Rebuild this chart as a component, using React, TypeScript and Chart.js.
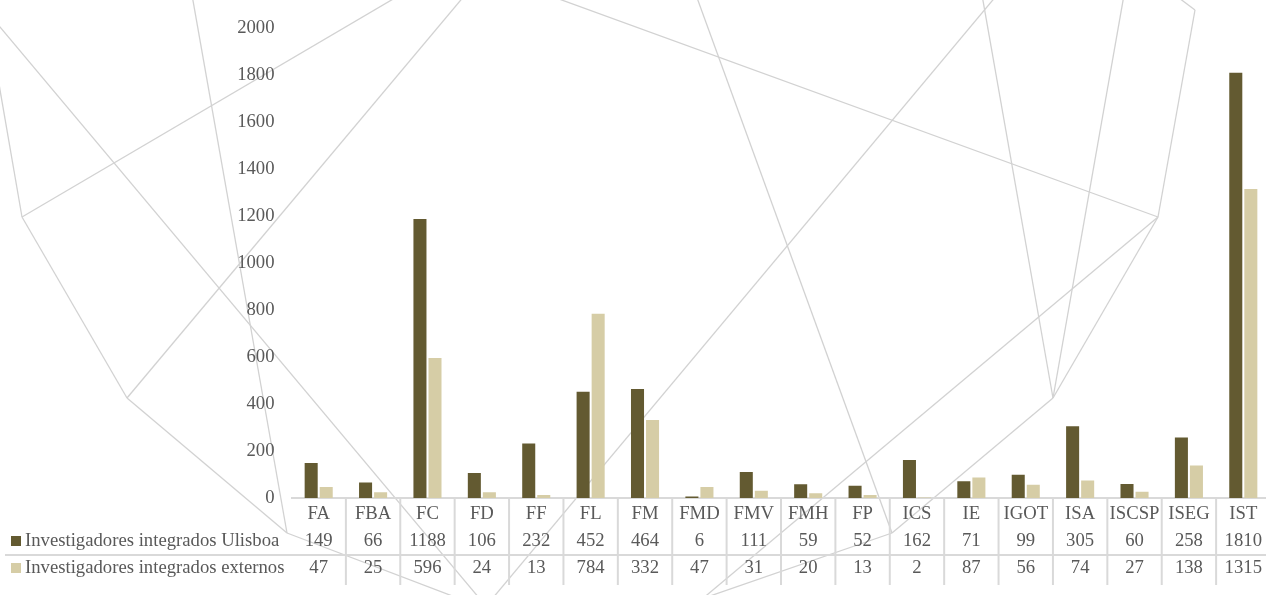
import React, { useEffect, useRef } from "react";
import { Chart, registerables } from "chart.js";

Chart.register(...registerables);

// ---- data ----
const categories = ["FA", "FBA", "FC", "FD", "FF", "FL", "FM", "FMD", "FMV", "FMH", "FP", "ICS", "IE", "IGOT", "ISA", "ISCSP", "ISEG", "IST"];
const ulisboa = [149, 66, 1188, 106, 232, 452, 464, 6, 111, 59, 52, 162, 71, 99, 305, 60, 258, 1810];
const externos = [47, 25, 596, 24, 13, 784, 332, 47, 31, 20, 13, 2, 87, 56, 74, 27, 138, 1315];
const seriesLabels = ["Investigadores integrados Ulisboa", "Investigadores integrados externos"];
const yMin = 0;
const yMax = 2000;
const yStep = 200;

// ---- style ----
const COLORS = ["#635A31", "#D6CDA6"];
const FONT = "'Liberation Serif', 'Times New Roman', serif";
const FONT_SIZE = 18.7;
const TEXT = "#595959";
const RULE = "#D9D9D9";
const DECOR_COLOR = "#D2D2D2";

// decorative background line pattern (pixel segments, not data)
const DECOR: number[][] = [
  [-10, 15, 485, 605],
  [-5, 61, 22, 217],
  [22, 217, 400, -5],
  [22, 217, 127, 398],
  [127, 398, 465, -5],
  [127, 398, 287, 533],
  [192, -5, 287, 533],
  [287, 533, 476, 605],
  [487, 605, 997, -5],
  [548, -5, 1158, 217],
  [696, -5, 892, 533],
  [892, 533, 684, 605],
  [1158, 217, 695, 605],
  [982, -5, 1053, 398],
  [1053, 398, 1158, 217],
  [1124, -5, 1053, 398],
  [1195, 10, 1158, 217],
  [1175, -5, 1195, 10],
  [892, 533, 1053, 398],
];

const decorPlugin = {
  id: "decor",
  beforeDraw(chart: any) {
    const ctx = chart.ctx;
    ctx.save();
    ctx.fillStyle = "#FFFFFF";
    ctx.fillRect(0, 0, chart.width, chart.height);
    ctx.strokeStyle = DECOR_COLOR;
    ctx.lineWidth = 1.3;
    DECOR.forEach(([x1, y1, x2, y2]) => {
      ctx.beginPath();
      ctx.moveTo(x1, y1);
      ctx.lineTo(x2, y2);
      ctx.stroke();
    });
    ctx.restore();
  },
};

const tablePlugin = {
  id: "dataTable",
  afterDraw(chart: any) {
    const { ctx, chartArea } = chart;
    const x = chart.scales.x;
    const n = categories.length;
    const step = (chartArea.right - chartArea.left) / n;
    const b = chartArea.bottom;
    const rowYs = [b + 43, b + 70];
    const dividerY = b + 57;
    const tableBottom = b + 87;
    const rows = [ulisboa, externos];

    ctx.save();
    ctx.strokeStyle = RULE;
    ctx.lineWidth = 2;
    ctx.beginPath();
    ctx.moveTo(5, dividerY);
    ctx.lineTo(chart.width, dividerY);
    ctx.stroke();
    for (let i = 1; i <= n; i++) {
      const px = chartArea.left + i * step;
      ctx.beginPath();
      ctx.moveTo(px, b);
      ctx.lineTo(px, tableBottom);
      ctx.stroke();
    }

    ctx.font = `${FONT_SIZE}px ${FONT}`;
    ctx.fillStyle = TEXT;
    ctx.textBaseline = "middle";
    ctx.textAlign = "center";
    rows.forEach((vals, r) => {
      vals.forEach((v, i) => {
        ctx.fillText(String(v), x.getPixelForValue(i), rowYs[r]);
      });
    });

    ctx.textAlign = "left";
    seriesLabels.forEach((lab, r) => {
      ctx.fillStyle = COLORS[r];
      ctx.fillRect(11, rowYs[r] - 5, 10, 10);
      ctx.fillStyle = TEXT;
      ctx.fillText(lab, 25, rowYs[r]);
    });
    ctx.restore();
  },
};

export default function App() {
  const ref = useRef<HTMLCanvasElement | null>(null);

  useEffect(() => {
    if (!ref.current) return;
    const chart = new Chart(ref.current, {
      type: "bar",
      data: {
        labels: categories,
        datasets: [
          { label: seriesLabels[0], data: ulisboa, backgroundColor: COLORS[0], borderWidth: 0 },
          { label: seriesLabels[1], data: externos, backgroundColor: COLORS[1], borderWidth: 0 },
        ],
      },
      options: {
        responsive: false,
        animation: false,
        devicePixelRatio: 1,
        layout: { padding: { top: 23, left: 0, right: 1.5, bottom: 0 } },
        datasets: { bar: { categoryPercentage: 0.553, barPercentage: 0.867 } } as any,
        plugins: {
          legend: { display: false },
          tooltip: { enabled: false },
          title: { display: false },
        },
        scales: {
          x: {
            grid: { display: false, drawTicks: false, tickLength: 0 },
            border: { display: true, color: RULE, width: 2 },
            ticks: {
              color: TEXT,
              font: { family: FONT, size: FONT_SIZE },
              padding: 5,
              maxRotation: 0,
              autoSkip: false,
            },
            afterFit(scale: any) {
              scale.height = 97;
            },
          },
          y: {
            min: yMin,
            max: yMax,
            grid: { display: false, drawTicks: false, tickLength: 0 },
            border: { display: false },
            ticks: {
              stepSize: yStep,
              color: TEXT,
              font: { family: FONT, size: FONT_SIZE },
              padding: 17,
              callback: (v: any) => String(v),
            },
            afterFit(scale: any) {
              scale.width = 291.5;
            },
          },
        },
      },
      plugins: [decorPlugin, tablePlugin],
    });
    return () => chart.destroy();
  }, []);

  return (
    <div style={{ position: "absolute", left: 0, top: 0, width: 1266, height: 595, overflow: "hidden", background: "#fff" }}>
      <canvas ref={ref} width={1272} height={595} style={{ display: "block" }} />
    </div>
  );
}
